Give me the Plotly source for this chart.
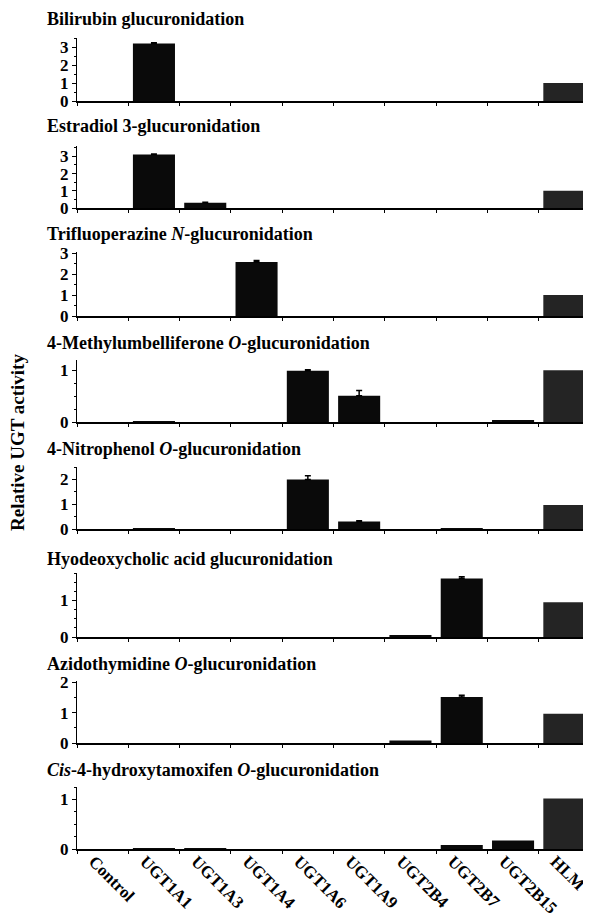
import plotly.graph_objects as go

categories = ["Control", "UGT1A1", "UGT1A3", "UGT1A4", "UGT1A6", "UGT1A9",
              "UGT2B4", "UGT2B7", "UGT2B15", "HLM"]

titles = [
    "Bilirubin glucuronidation",
    "Estradiol 3-glucuronidation",
    "Trifluoperazine <i>N</i>-glucuronidation",
    "4-Methylumbelliferone <i>O</i>-glucuronidation",
    "4-Nitrophenol <i>O</i>-glucuronidation",
    "Hyodeoxycholic acid glucuronidation",
    "Azidothymidine <i>O</i>-glucuronidation",
    "<i>Cis</i>-4-hydroxytamoxifen <i>O</i>-glucuronidation",
]

bilirubin = [0, 3.2, 0, 0, 0, 0, 0, 0, 0, 1.0]
estradiol = [0, 3.1, 0.3, 0, 0, 0, 0, 0, 0, 1.0]
trifluoperazine = [0, 0, 0, 2.57, 0, 0, 0, 0, 0, 1.0]
methylumbelliferone = [0, 0.01, 0, 0, 0.99, 0.51, 0, 0, 0.04, 1.0]
nitrophenol = [0, 0.01, 0, 0, 2.0, 0.3, 0, 0.02, 0, 0.97]
hyodeoxycholic = [0, 0, 0, 0, 0, 0, 0.04, 1.6, 0, 0.95]
azidothymidine = [0, 0, 0, 0, 0, 0, 0.08, 1.52, 0, 0.97]
hydroxytamoxifen = [0, 0.01, 0.01, 0, 0, 0, 0, 0.08, 0.17, 1.02]

bilirubin_err = [None, 0.04, None, None, None, None, None, None, None, None]
estradiol_err = [None, 0.03, 0.03, None, None, None, None, None, None, None]
trifluoperazine_err = [None, None, None, 0.08, None, None, None, None, None, None]
methylumbelliferone_err = [None, None, None, None, 0.02, 0.1, None, None, None, None]
nitrophenol_err = [None, None, None, None, 0.15, 0.03, None, None, None, None]
hyodeoxycholic_err = [None, None, None, None, None, None, None, 0.05, None, None]
azidothymidine_err = [None, None, None, None, None, None, None, 0.06, None, None]
hydroxytamoxifen_err = [None] * 10

series = [bilirubin, estradiol, trifluoperazine, methylumbelliferone,
          nitrophenol, hyodeoxycholic, azidothymidine, hydroxytamoxifen]
errors = [bilirubin_err, estradiol_err, trifluoperazine_err, methylumbelliferone_err,
          nitrophenol_err, hyodeoxycholic_err, azidothymidine_err, hydroxytamoxifen_err]

y_max = [3.5, 3.6, 3.05, 1.2, 2.5, 1.75, 2.05, 1.25]
y_minor = [0.5, 0.5, 0.5, 0.25, 0.5, 0.25, 0.5, 0.25]

# page pixels of the reference; the page body adds an 8px margin
OFF = 8
W, H = 591 - OFF, 922 - OFF
zero_px = [101, 208, 316, 422, 529, 637, 743, 849]
top_px = [38, 146, 252, 360, 467, 573, 681, 787]
title_px = [19, 126, 234, 343, 449, 559, 664, 770]
x0_px, x1_px = 77, 590


def fx(px):
    return (px - OFF) / W


def fy(py):
    return 1 - (py - OFF) / H


FONT = "Liberation Serif"
bar_colors = ["#0a0a0a"] * 9 + ["#242424"]

fig = go.Figure()
for i in range(8):
    ax = "" if i == 0 else str(i + 1)
    idx = [k for k, e in enumerate(errors[i]) if e is not None]
    fig.add_trace(go.Bar(
        x=categories, y=series[i],
        marker=dict(color=bar_colors, line=dict(width=0)),
        width=0.82,
        xaxis="x" + ax, yaxis="y" + ax, showlegend=False,
    ))
    if idx:
        fig.add_trace(go.Scatter(
            x=[categories[k] for k in idx], y=[series[i][k] for k in idx],
            mode="markers", marker=dict(size=1, color="rgba(0,0,0,0)"),
            error_y=dict(type="data", array=[errors[i][k] for k in idx],
                         symmetric=False, arrayminus=[0] * len(idx),
                         thickness=1.5, width=3, color="black"),
            xaxis="x" + ax, yaxis="y" + ax, showlegend=False,
        ))
    fig.layout["xaxis" + ax] = dict(
        domain=[fx(x0_px), min(1.0, fx(x1_px))], anchor="y" + ax, automargin=False,
        type="category", range=[-0.5, 9.5], tickson="boundaries",
        ticks="outside", ticklen=3, tickcolor="black", tickwidth=1,
        showline=True, linecolor="black", linewidth=1.5,
        showgrid=False, zeroline=False,
        showticklabels=(i == 7), tickangle=45, ticklabelshift=-9,
        ticklabelstandoff=-6,
        tickfont=dict(family=FONT, size=17, color="black", weight="bold"),
    )
    fig.layout["yaxis" + ax] = dict(
        domain=[fy(zero_px[i]), fy(top_px[i])], anchor="x" + ax, automargin=False,
        range=[0, y_max[i]],
        tickmode="linear", tick0=0, dtick=1,
        ticks="outside", ticklen=4, tickcolor="black",
        minor=dict(ticks="outside", ticklen=2, tickcolor="black", dtick=y_minor[i]),
        showline=True, linecolor="black", linewidth=1.2,
        showgrid=False, zeroline=False,
        tickfont=dict(family=FONT, size=17, color="black", weight="bold"),
    )
    fig.add_annotation(
        text=titles[i], xref="paper", yref="paper",
        x=fx(45), y=fy(title_px[i]), xanchor="left", yanchor="middle",
        showarrow=False,
        font=dict(family=FONT, size=18, color="black", weight="bold"),
    )

fig.add_annotation(
    text="Relative UGT activity", xref="paper", yref="paper",
    x=fx(18), y=fy(443), xanchor="center", yanchor="middle",
    textangle=-90, showarrow=False,
    font=dict(family=FONT, size=19, color="black", weight="bold"),
)

fig.update_layout(
    width=W, height=H, margin=dict(l=0, r=0, t=0, b=0, autoexpand=False),
    paper_bgcolor="white", plot_bgcolor="white", bargap=0.18,
)

fig.write_html("out.html")
